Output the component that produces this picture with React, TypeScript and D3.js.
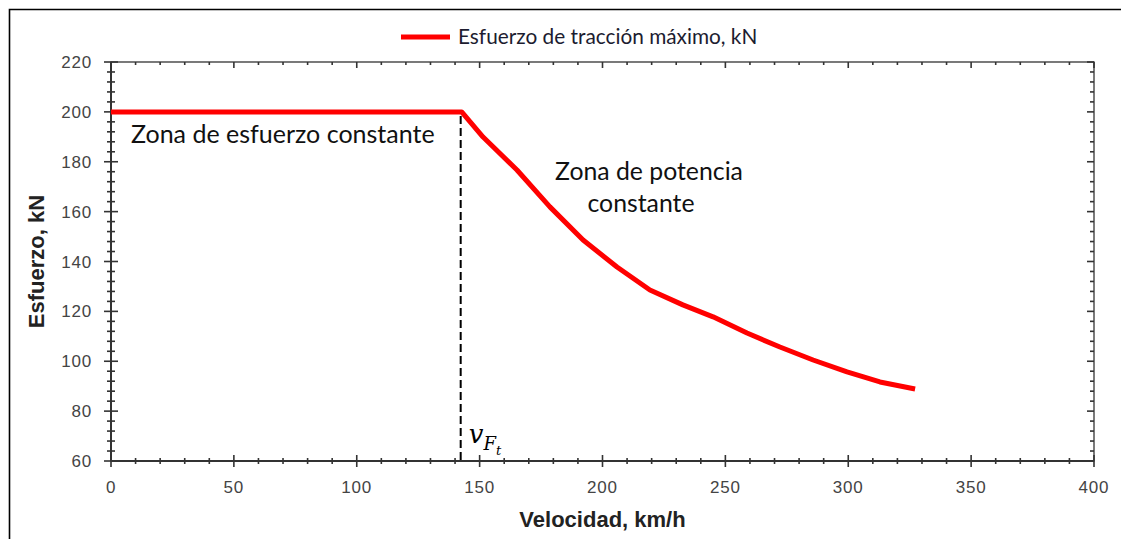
import { useMemo } from "react";
import * as d3 from "d3";

const WIDTH = 1121;
const HEIGHT = 539;
const MARGIN = { top: 62, right: 27, bottom: 78, left: 111 };

// velocity (km/h) and max tractive effort (kN)
const velocity = [0, 142.7, 151.4, 165.2, 178.6, 192.1, 205.9, 219.3, 232.7, 245, 258.8, 272.2, 285.7, 299.5, 312.9, 327.2];
const effort = [200, 200, 189.9, 176.7, 161.9, 148.6, 137.8, 128.6, 122.6, 117.8, 111.3, 105.7, 100.5, 95.7, 91.7, 88.9];

const xDomain = [0, 400];
const yDomain = [60, 220];
const xTicks = [0, 50, 100, 150, 200, 250, 300, 350, 400];
const yTicks = [60, 80, 100, 120, 140, 160, 180, 200, 220];
const vFt = 142.7;

const AXIS = "#333";
const LABEL = "#444";
const SANS = "'Liberation Sans', Arial, sans-serif";
const TEXT = "Lato, 'Open Sans', sans-serif";

export default function App() {
  const boundsWidth = WIDTH - MARGIN.left - MARGIN.right;
  const boundsHeight = HEIGHT - MARGIN.top - MARGIN.bottom;

  const xScale = useMemo(() => d3.scaleLinear().domain(xDomain).range([0, boundsWidth]), [boundsWidth]);
  const yScale = useMemo(() => d3.scaleLinear().domain(yDomain).range([boundsHeight, 0]), [boundsHeight]);

  const points = velocity.map((v, i) => [v, effort[i]] as [number, number]);
  const linePath = d3
    .line<[number, number]>()
    .x((d) => xScale(d[0]))
    .y((d) => yScale(d[1]))(points);

  const xMinor = d3.range(xDomain[0], xDomain[1] + 0.1, 10);
  const yMinor = d3.range(yDomain[0], yDomain[1] + 0.1, 4);

  return (
    <svg width={WIDTH} height={HEIGHT} style={{ position: "absolute", left: 0, top: 0 }}>
      <rect x={0} y={0} width={WIDTH} height={HEIGHT} fill="#fff" />
      {/* outer frame */}
      <path d={`M9.5,${HEIGHT + 5} V9.5 H${WIDTH + 5}`} fill="none" stroke="#000" strokeWidth={1.6} />

      {/* legend */}
      <line x1={401} x2={450} y1={37} y2={37} stroke="#ff0000" strokeWidth={5} />
      <text x={458} y={44} fontFamily={TEXT} fontSize={20.8} fill="#1c1c30">
        Esfuerzo de tracción máximo, kN
      </text>

      <g transform={`translate(${MARGIN.left},${MARGIN.top})`}>
        {/* frame of plot area */}
        <rect x={0} y={0} width={boundsWidth} height={boundsHeight} fill="none" stroke={AXIS} strokeWidth={1.3} />

        {/* x ticks bottom (crossing) and top (inward) */}
        {xMinor.map((t) => {
          const major = t % 50 === 0;
          const l = major ? 6 : 3;
          return (
            <g key={`x${t}`}>
              <line x1={xScale(t)} x2={xScale(t)} y1={boundsHeight - l} y2={boundsHeight + l} stroke={AXIS} strokeWidth={1.6} />
              <line x1={xScale(t)} x2={xScale(t)} y1={0} y2={major ? 6 : 3} stroke={AXIS} strokeWidth={1.6} />
            </g>
          );
        })}
        {yMinor.map((t) => {
          const major = t % 20 === 0;
          const l = major ? 7 : 4;
          return (
            <g key={`y${t}`}>
              <line x1={-l} x2={l} y1={yScale(t)} y2={yScale(t)} stroke={AXIS} strokeWidth={1.6} />
              <line x1={boundsWidth - (major ? 7 : 4)} x2={boundsWidth} y1={yScale(t)} y2={yScale(t)} stroke={AXIS} strokeWidth={1.6} />
            </g>
          );
        })}
        <line x1={0} x2={boundsWidth} y1={boundsHeight} y2={boundsHeight} stroke={AXIS} strokeWidth={2} />
        <line x1={0} x2={0} y1={0} y2={boundsHeight} stroke={AXIS} strokeWidth={2} />

        {xTicks.map((t) => (
          <text key={`xl${t}`} x={xScale(t)} y={boundsHeight + 32} textAnchor="middle" fontFamily={SANS} fontSize={17} letterSpacing={0.8} fill={LABEL}>
            {t}
          </text>
        ))}
        {yTicks.map((t) => (
          <text key={`yl${t}`} x={-19} y={yScale(t)} dy="0.36em" textAnchor="end" fontFamily={SANS} fontSize={17} letterSpacing={0.8} fill={LABEL}>
            {t}
          </text>
        ))}

        {/* dashed marker of v_Ft */}
        <line x1={xScale(vFt) - 1} x2={xScale(vFt) - 1} y1={yScale(200) + 4} y2={boundsHeight} stroke="#000" strokeWidth={2} strokeDasharray="8,4" />

        <path d={linePath ?? ""} fill="none" stroke="#ff0000" strokeWidth={5} strokeLinejoin="round" />

        {/* annotations */}
        <text x={20} y={81} fontFamily={TEXT} fontSize={25} fill="#111">
          Zona de esfuerzo constante
        </text>
        <text x={538} y={118} textAnchor="middle" fontFamily={TEXT} fontSize={24.8} fill="#111">
          Zona de potencia
        </text>
        <text x={530} y={150} textAnchor="middle" fontFamily={TEXT} fontSize={24.8} fill="#111">
          constante
        </text>
        <text x={xScale(vFt) + 7} y={boundsHeight - 18} fontFamily="'DejaVu Serif', serif" fontStyle="italic" fontSize={26} fill="#000">
          v
          <tspan fontSize={18} dy={7}>F</tspan>
          <tspan fontSize={13} dy={5}>t</tspan>
        </text>
      </g>

      {/* axis titles */}
      <text x={MARGIN.left + boundsWidth / 2} y={527} textAnchor="middle" fontFamily={SANS} fontWeight="bold" fontSize={22} fill="#222">
        Velocidad, km/h
      </text>
      <text transform={`translate(44,${MARGIN.top + boundsHeight / 2}) rotate(-90)`} textAnchor="middle" fontFamily={SANS} fontWeight="bold" fontSize={22} fill="#222">
        Esfuerzo, kN
      </text>
    </svg>
  );
}
